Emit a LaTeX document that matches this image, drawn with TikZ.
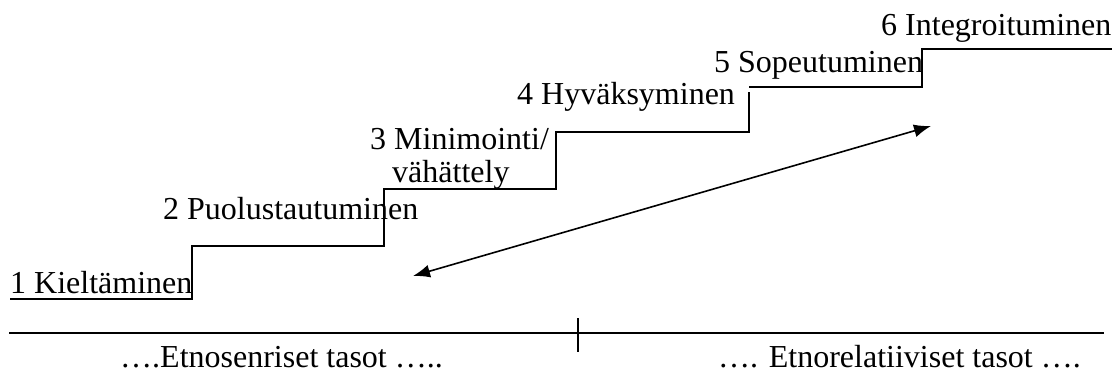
\documentclass[tikz,border=0pt]{standalone}
\usepackage{fontspec}
\setmainfont{Liberation Serif}
\usetikzlibrary{arrows.meta}
\begin{document}
\begin{tikzpicture}[x=1pt,y=-1pt,
  lbl/.style={anchor=base west,inner sep=0pt,font=\fontsize{32}{34}\selectfont},
  stair/.style={line width=1.8pt},
  rule/.style={line width=1.3pt},
  twohead/.style={line width=1.6pt,{Latex[length=17pt,width=13pt]}-{Latex[length=17pt,width=13pt]}}]
\useasboundingbox (0,0) rectangle (1114,374);
% stair labels
\node[lbl] (t1) at (10,293) {1 Kieltäminen};
\node[lbl] (t2) at (163,220) {2 Puolustautuminen};
\node[lbl] (t3) at (370,150) {3 Minimointi/};
\node[lbl] (t3b) at (392,183) {vähättely};
\node[lbl] (t4) at (517,105) {4 Hyväksyminen};
\node[lbl] (t5) at (714,73) {5 Sopeutuminen};
\node[lbl] (t6) at (881,36) {6 Integroituminen};
% stairs
\coordinate (s0) at (10,299);
\coordinate (s1) at (192,299);
\coordinate (s2) at (192,246);
\coordinate (s3) at (384,246);
\coordinate (s4) at (384,189);
\coordinate (s5) at (556,189);
\coordinate (s6) at (556,132);
\coordinate (s7) at (749,132);
\coordinate (s8) at (749,92);
\coordinate (s9) at (749,87);
\coordinate (s10) at (922,87);
\coordinate (s11) at (922,49);
\coordinate (s12) at (1112,49);
\draw[stair] (s0) -- (s1) -- (s2) -- (s3) -- (s4) -- (s5) -- (s6) -- (s7) -- (s8);
\draw[stair] (s9) -- (s10) -- (s11) -- (s12);
% double arrow
\coordinate (a) at (413,276);
\coordinate (b) at (931,126);
\draw[twohead] (a) -- (b);
% bottom axis
\coordinate (l0) at (9,333);
\coordinate (l1) at (1104,333);
\coordinate (k0) at (578,318);
\coordinate (k1) at (578,352);
\draw[rule] (l0) -- (l1);
\draw[rule] (k0) -- (k1);
\node[lbl] (e1) at (120,367) {….Etnosenriset tasot …..};
\node[lbl] (e2) at (718,367) {…. Etnorelatiiviset tasot ….};
\end{tikzpicture}
\end{document}
